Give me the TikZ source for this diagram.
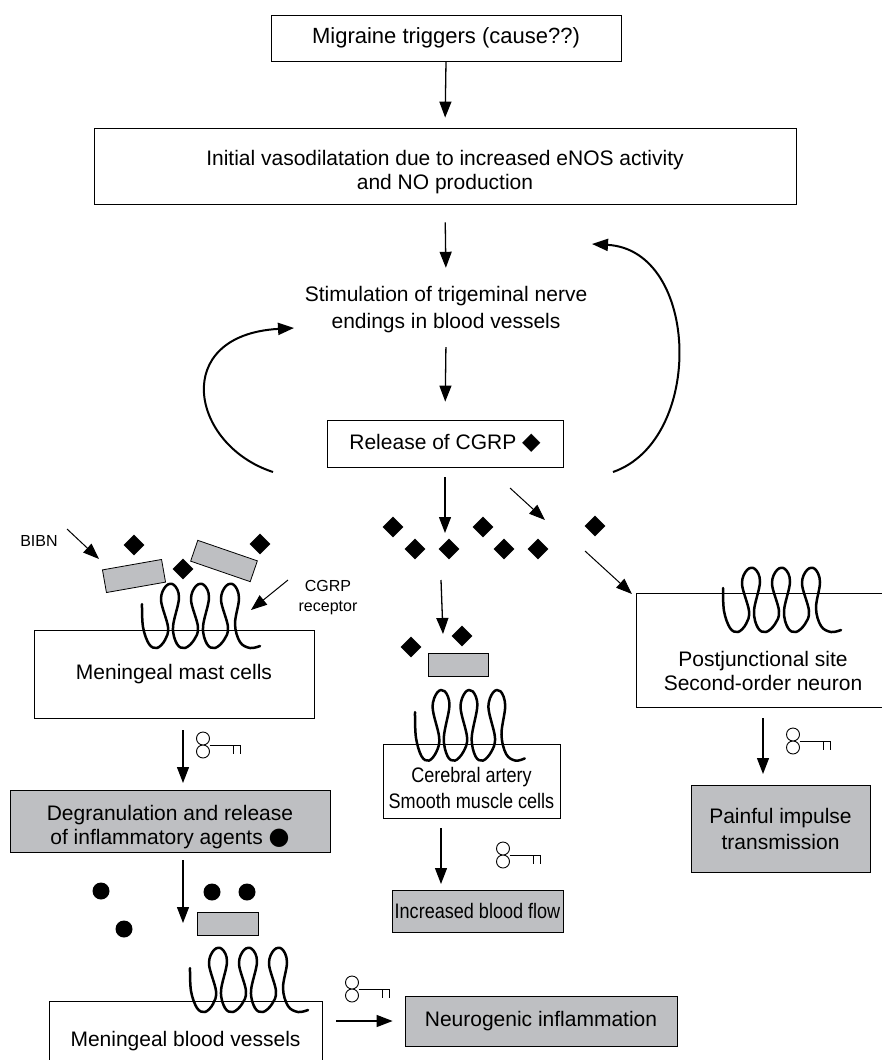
\documentclass[tikz,border=0pt]{standalone}
\usepackage{fontspec}
\setmainfont{Liberation Sans}
\newfontfamily\symfont{DejaVu Sans}
\newfontfamily\narrowfont[FakeStretch=0.86]{Liberation Sans}
\usetikzlibrary{arrows.meta,shapes.geometric}
\definecolor{boxgray}{RGB}{190,191,194}
\begin{document}
\begin{tikzpicture}[x=1pt,y=-1pt,
  txt/.style={font=\fontsize{21}{24}\selectfont, align=center, inner sep=0pt},
  smalltxt/.style={font=\fontsize{16}{20}\selectfont, align=center, inner sep=0pt},
  box/.style={draw, line width=0.8pt, txt},
  graybox/.style={box, fill=boxgray},
  tip/.style={-{Triangle[length=16pt,width=12pt]}},
  flow/.style={line width=1.3pt, tip},
  thinflow/.style={line width=1pt, tip},
  loopflow/.style={line width=2pt, tip},
  diam/.style={shape=diamond, fill=black, inner sep=0pt, minimum size=21pt},
  dot/.style={shape=circle, fill=black, inner sep=0pt, minimum size=17pt},
  blocker/.style={draw, line width=0.8pt, fill=boxgray, inner sep=0pt, minimum width=60pt, minimum height=23pt},
  receptor/.pic={
    \draw[line width=2.5pt, line cap=round, line join=round]
      plot[smooth, tension=0.6] coordinates {
        (0,22) (1,45) (7,62) (15,66) (23,58) (26,45) (19,18) (24,4) (32,3) (37,16)
        (31,45) (35,62) (43,66) (52,58) (56,45) (49,18) (54,4) (62,3) (67,16)
        (61,45) (65,62) (73,66) (82,58) (86,45) (79,18) (84,4) (92,3) (97,16)
        (93,42) (98,60) (108,66) (118,64)};
  },
  keysym/.pic={
    \draw[line width=0.9pt] (0,-6.5) circle (6.5) (0,6.5) circle (6.5);
    \draw[line width=0.9pt] (6.5,0) -- (37,0) (30,0) -- (30,9) (37,0) -- (37,9);
  }
]
\clip (0,0) rectangle (882,1060);
\fill[white] (0,0) rectangle (882,1060);

% main chain
\node[box, minimum width=350pt, minimum height=46pt, font=\fontsize{22}{24}\selectfont] (trig) at (446,38) {Migraine triggers (cause??)};
\node[box, minimum width=702pt, minimum height=76pt] (vaso) at (445,166) {};
\node[txt] (vasotxt) at (445,172)
  {Initial vasodilatation due to increased eNOS activity\\and NO production};
\node[txt, minimum height=62pt] (stim) at (446,309.5)
  {Stimulation of trigeminal nerve\\[3pt]endings in blood vessels};
\node[box, minimum width=236pt, minimum height=47pt] (rel) at (445,443.5)
  {Release of CGRP {\symfont\fontsize{24}{24}\selectfont ◆}};

\draw[flow, shorten >=10pt] (trig.south) -- (vaso.north);
\draw[flow, shorten <=18pt, shorten >=10.5pt] (vaso.south) -- (stim.north);
\draw[flow, shorten <=6.5pt, shorten >=18pt] (stim.south) -- (rel.north);

% feedback loops
\coordinate (lfA) at (273,472);
\coordinate (lfB) at (294,328);
\coordinate (rfA) at (613,472);
\coordinate (rfB) at (592,244);
\draw[loopflow] (lfA) .. controls (190,445) and (170,335) .. (lfB);
\draw[loopflow] (rfA) .. controls (705,440) and (700,250) .. (rfB);

% released CGRP
\coordinate (cgA) at (445,477);
\coordinate (cgB) at (445,533);
\draw[flow] (cgA) -- (cgB);
\coordinate (dgA) at (510,488);
\coordinate (dgB) at (545,520);
\draw[thinflow] (dgA) -- (dgB);
\node[diam] (d1) at (393,527) {};
\node[diam] (d2) at (415,549) {};
\node[diam] (d3) at (449,549) {};
\node[diam] (d4) at (483,527) {};
\node[diam] (d5) at (504,549) {};
\node[diam] (d6) at (538,549) {};
\node[diam] (d7) at (595,526) {};

% mast cell branch
\node[box, minimum width=280pt, minimum height=88pt] (mast) at (174,674) {Meningeal mast cells};
\node[smalltxt] (bibn) at (39,541) {BIBN};
\coordinate (bibnA) at (67,529);
\coordinate (bibnB) at (99,559);
\draw[thinflow] (bibnA) -- (bibnB);
\node[blocker, rotate=10] (blk1) at (134,576) {};
\node[blocker, rotate=-19, minimum width=63pt, minimum height=22pt] (blk2) at (224,561) {};
\node[diam] (d8) at (134,545) {};
\node[diam] (d9) at (183,569) {};
\node[diam] (d10) at (260,544) {};
\pic at (142,582) {receptor};
\node[smalltxt] (rlab) at (328,598) {CGRP\\receptor};
\coordinate (rlA) at (288,580);
\coordinate (rlB) at (251,610);
\draw[thinflow] (rlA) -- (rlB);

\node[graybox, minimum width=320pt, minimum height=62pt] (degr) at (170,821) {};
\node[txt] (degrtxt) at (170,827)
  {Degranulation and release\\of inflammatory agents {\symfont\fontsize{24}{24}\selectfont ●}};
\draw[flow, shorten <=12pt, shorten >=7pt] (183,718) coordinate (mA) -- (183,790) coordinate (mB);
\pic at (203,745) {keysym};

\coordinate (gA) at (183,860);
\coordinate (gB) at (183,923);
\draw[flow] (gA) -- (gB);
\node[dot] (o1) at (212,892) {};
\node[dot] (o2) at (247,892) {};
\node[dot] (o3) at (101,891) {};
\node[dot] (o4) at (124,929) {};
\node[blocker, minimum width=61pt] (blk3) at (227.5,923.5) {};
\pic at (190,946) {receptor};
\node[box, minimum width=273pt, minimum height=80pt] (mbv) at (185.5,1041) {Meningeal blood vessels};
\node[graybox, minimum width=272pt, minimum height=50pt] (neuro) at (541,1021) {Neurogenic inflammation};
\draw[flow, shorten <=14pt, shorten >=12pt] (mbv.east |- neuro) -- (neuro.west);
\pic at (352,989) {keysym};

% smooth muscle branch
\coordinate (cA) at (441,580);
\coordinate (cB) at (443,634);
\draw[flow] (cA) -- (cB);
\node[diam] (d11) at (411,647) {};
\node[diam] (d12) at (462,636) {};
\node[blocker] (blk4) at (458,665) {};
\pic[xscale=0.93, yscale=1.1] at (415,688) {receptor};
\node[box, minimum width=177pt, minimum height=74pt] (cereb) at (471.5,781) {};
\node[txt, font=\narrowfont\fontsize{21}{26}\selectfont] (cerebtxt) at (471.5,788)
  {Cerebral artery\\Smooth muscle cells};
\node[graybox, minimum width=171pt, minimum height=42pt, font=\narrowfont\fontsize{21}{24}\selectfont] (flow) at (477.5,911) {Increased blood flow};
\coordinate (fA) at (441,828);
\coordinate (fB) at (441,884);
\draw[flow] (fA) -- (fB);
\pic at (503,855) {keysym};

% second-order neuron branch
\coordinate (pA) at (585,551);
\coordinate (pB) at (632,594);
\draw[thinflow] (pA) -- (pB);
\node[box, minimum width=254pt, minimum height=114pt] (post) at (763,650) {};
\node[txt] (posttxt) at (763,671) {Postjunctional site\\Second-order neuron};
\pic at (723,566) {receptor};
\node[graybox, minimum width=179pt, minimum height=87pt] (pain) at (780.5,828.5)
  {Painful impulse\\[2pt]transmission};
\coordinate (nA) at (763,718);
\coordinate (nB) at (763,774);
\draw[flow] (nA) -- (nB);
\pic at (793,741) {keysym};
\end{tikzpicture}
\end{document}
